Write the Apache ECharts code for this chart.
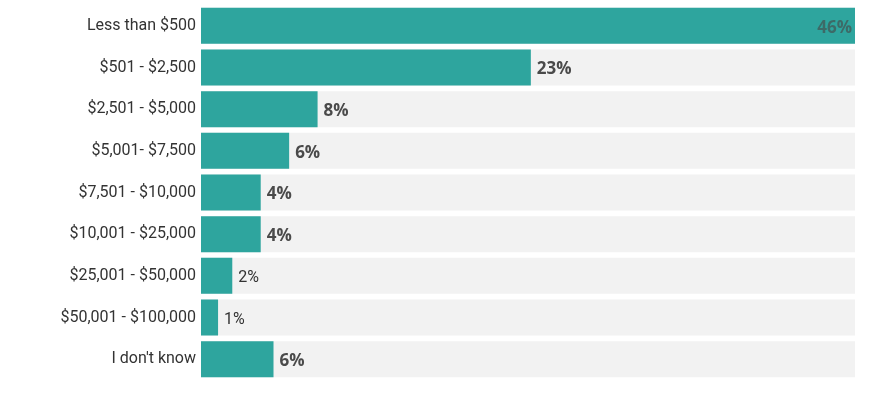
<!DOCTYPE html>
<html>
<head>
<meta charset="utf-8">
<script src="https://cdn.jsdelivr.net/npm/echarts@6/dist/echarts.min.js"></script>
<style>
  html, body { margin: 0; padding: 0; background: #fff; }
  #chart { width: 877px; height: 397px; }
</style>
</head>
<body>
<div id="chart"></div>
<script>
// categories top to bottom
var categories = ['Less than $500', '$501 - $2,500', '$2,501 - $5,000', '$5,001- $7,500',
    '$7,501 - $10,000', '$10,001 - $25,000', '$25,001 - $50,000', '$50,001 - $100,000', "I don't know"];
// bar lengths as drawn
var values = [46, 23.2, 8.2, 6.2, 4.2, 4.2, 2.2, 1.2, 5.1];
// label text as printed
var labels = ['46%', '23%', '8%', '6%', '4%', '4%', '2%', '1%', '6%'];
var boldLabels = [true, true, true, true, true, true, false, false, true];

var chart = echarts.init(document.getElementById('chart'));

var data = values.map(function (v, i) {
    var item = { value: v };
    if (i === 0) {
        // top bar is full, label sits inside
        item.label = { position: 'insideRight', color: '#3d6a67', offset: [3, 2] };
    }
    if (!boldLabels[i]) {
        item.label = { fontWeight: 'normal', fontFamily: 'Roboto', fontSize: 16, color: '#333' };
    }
    return item;
});

chart.setOption({
    animation: false,
    grid: { left: 201, right: 22, top: 5, bottom: 17 },
    xAxis: {
        type: 'value',
        min: 0,
        max: 46,
        show: false
    },
    yAxis: {
        type: 'category',
        inverse: true,
        data: categories,
        axisLine: { show: false },
        axisTick: { show: false },
        axisLabel: {
            margin: 5,
            color: '#333',
            fontFamily: 'Roboto',
            fontSize: 16
        }
    },
    series: [{
        type: 'bar',
        data: data,
        barWidth: 36,
        itemStyle: { color: '#2ea59e' },
        showBackground: true,
        backgroundStyle: { color: '#f2f2f2' },
        label: {
            show: true,
            position: 'right',
            distance: 6,
            offset: [0, 2],
            color: '#4a4a4a',
            fontFamily: 'Open Sans',
            fontWeight: 'bold',
            fontSize: 17,
            formatter: function (p) { return labels[p.dataIndex]; }
        }
    }]
});
</script>
</body>
</html>
